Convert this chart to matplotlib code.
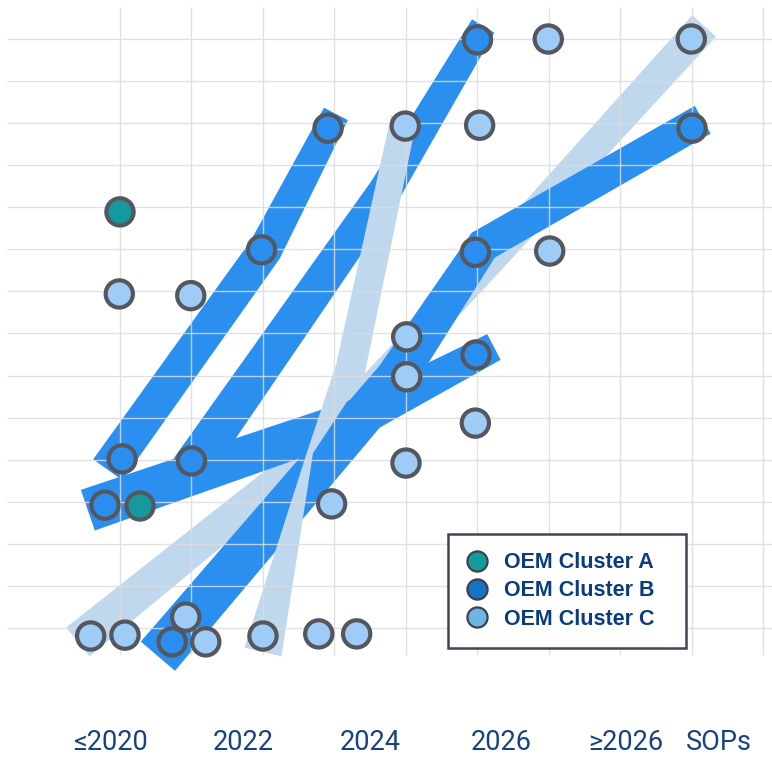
import numpy as np
import matplotlib
matplotlib.use("Agg")
import matplotlib.pyplot as plt
from matplotlib.patches import Polygon
from matplotlib.lines import Line2D
from matplotlib.transforms import IdentityTransform

# x = grid column (0 is the first vertical line), y = grid row (0 is the lowest line)
dot_x = [0.0, -0.01, 0.99, 1.98, 2.91, 3.99, 5.0, 5.99, 7.99, 5.03, 8.0,
         4.97, 6.01, 4.01, 4.98, 4.01, 4.97, 4.0, 0.03, 1.0, -0.21, 0.28,
         2.96, -0.41, 0.07, 0.92, 0.73, 1.2, 2.0, 2.78, 3.31]
dot_y = [9.89, 7.94, 7.9, 8.99, 11.88, 11.93, 13.98, 14.0, 14.0, 11.95, 11.88,
         8.93, 8.96, 6.92, 6.49, 5.97, 4.87, 3.92, 4.02, 3.97, 2.92, 2.9,
         2.95, -0.19, -0.17, 0.26, -0.33, -0.33, -0.19, -0.14, -0.14]
dot_cluster = ["A", "C", "C", "B", "B", "C", "B", "C", "C", "C", "B",
               "B", "C", "C", "B", "C", "C", "C", "B", "B", "B", "A",
               "C", "C", "C", "C", "B", "C", "C", "C", "C"]

year_labels = ["≤2020", "2022", "2024", "2026", "≥2026"]
year_pos = [-0.13, 1.72, 3.5, 5.33, 7.08]
axis_name = "SOPs"
axis_name_pos = 8.38

legend_labels = ["OEM Cluster A", "OEM Cluster B", "OEM Cluster C"]

# trend bands (centre path in grid units)
band_b1_x = [-0.17, 2.03, 3.02]
band_b1_y = [3.76, 8.99, 12.22]
band_b2_x = [0.98, 3.71, 5.08]
band_b2_y = [3.76, 10.41, 14.31]
band_b3_x = [-0.45, 3.36, 5.23]
band_b3_y = [2.80, 5.02, 6.68]
band_b4_x = [0.53, 3.85, 5.08, 8.15]
band_b4_y = [-0.67, 5.94, 9.10, 12.08]
band_c1_x = [-0.59, 2.59, 5.04, 8.17]
band_c1_y = [-0.33, 4.04, 8.46, 14.31]
band_c2_x = [2.0, 2.66, 3.22, 3.97]
band_c2_y = [-0.57, 4.18, 6.13, 12.12]

dot_colors = {"A": "#16999e", "B": "#2b8eef", "C": "#9fcbf7"}
legend_colors = ["#139a9d", "#1474c4", "#6db6e3"]
band_dark = "#2b8ff0"
band_light = "#bfd8ee"
navy = "#17437f"

fig = plt.figure(figsize=(7.72, 7.59), dpi=100)
ax = fig.add_axes([0, 0, 1, 1])
ax.set_xlim(-1.678, 9.119)
ax.set_ylim(-3.114, 14.927)
ax.axis("off")


def add_band(xs, ys, widths_px, color, z):
  # widths are in pixels at 100 dpi, build a mitred outline in display space
  pts = ax.transData.transform(np.column_stack([xs, ys]))
  half = np.asarray(widths_px, dtype=float) / 2 * fig.dpi / 100
  seg = np.diff(pts, axis=0)
  seg /= np.linalg.norm(seg, axis=1)[:, None]
  seg_n = np.column_stack([-seg[:, 1], seg[:, 0]])
  normals = [seg_n[0]]
  for i in range(1, len(pts) - 1):
    m = seg_n[i - 1] + seg_n[i]
    m /= np.linalg.norm(m)
    normals.append(m / np.dot(m, seg_n[i - 1]))
  normals.append(seg_n[-1])
  normals = np.array(normals)
  left = pts + normals * half[:, None]
  right = pts - normals * half[:, None]
  poly = Polygon(np.vstack([left, right[::-1]]), closed=True,
                 transform=IdentityTransform(), facecolor=color,
                 edgecolor="none", zorder=z)
  ax.add_patch(poly)


add_band(band_b2_x, band_b2_y, [40, 33, 26], band_dark, 1)
add_band(band_c1_x, band_c1_y, [37, 30, 28, 32], band_light, 2)
add_band(band_b3_x, band_b3_y, [43, 38, 29], band_dark, 3)
add_band(band_b4_x, band_b4_y, [45, 40, 33, 32], band_dark, 4)
add_band(band_b1_x, band_b1_y, [36, 34, 27], band_dark, 5)
add_band(band_c2_x, band_c2_y, [38, 6, 30, 26], band_light, 6)

# grid
ax.vlines(range(10), -0.64, 14.76, color="#dcdcdc", lw=1.0, alpha=0.85, zorder=7)
ax.hlines(range(15), -1.58, 9.12, color="#dcdcdc", lw=1.0, alpha=0.85, zorder=7)

ax.scatter(dot_x, dot_y, s=385, c=[dot_colors[k] for k in dot_cluster],
           edgecolors="#54585e", linewidths=3.0, zorder=10)

for pos, lab in zip(year_pos, year_labels):
  ax.text(pos, -2.73, lab, ha="center", va="center", fontsize=19.5,
          family="Roboto", color=navy)
ax.text(axis_name_pos, -2.73, axis_name, ha="center", va="center",
        fontsize=19.5, family="Roboto", color=navy)

handles = [Line2D([], [], ls="none", marker="o", ms=14.5, mfc=c, mec="#3d4148",
                  mew=1.6) for c in legend_colors]
leg = ax.legend(handles, legend_labels, loc="upper left",
                bbox_to_anchor=(448 / 772, 1 - 534 / 759, 238 / 772, 0),
                bbox_transform=fig.transFigure, mode="expand",
                frameon=True, fancybox=False, framealpha=1,
                edgecolor="#3b4656", borderpad=0.85, labelspacing=0.33,
                handlelength=1.0, handletextpad=0.75, borderaxespad=0,
                prop={"family": "Liberation Sans", "weight": "bold",
                      "size": 15.5})
leg.get_frame().set_linewidth(1.8)
leg.set_zorder(20)
for t in leg.get_texts():
  t.set_color("#0b3c7d")

fig.savefig("out.png", dpi=100)
